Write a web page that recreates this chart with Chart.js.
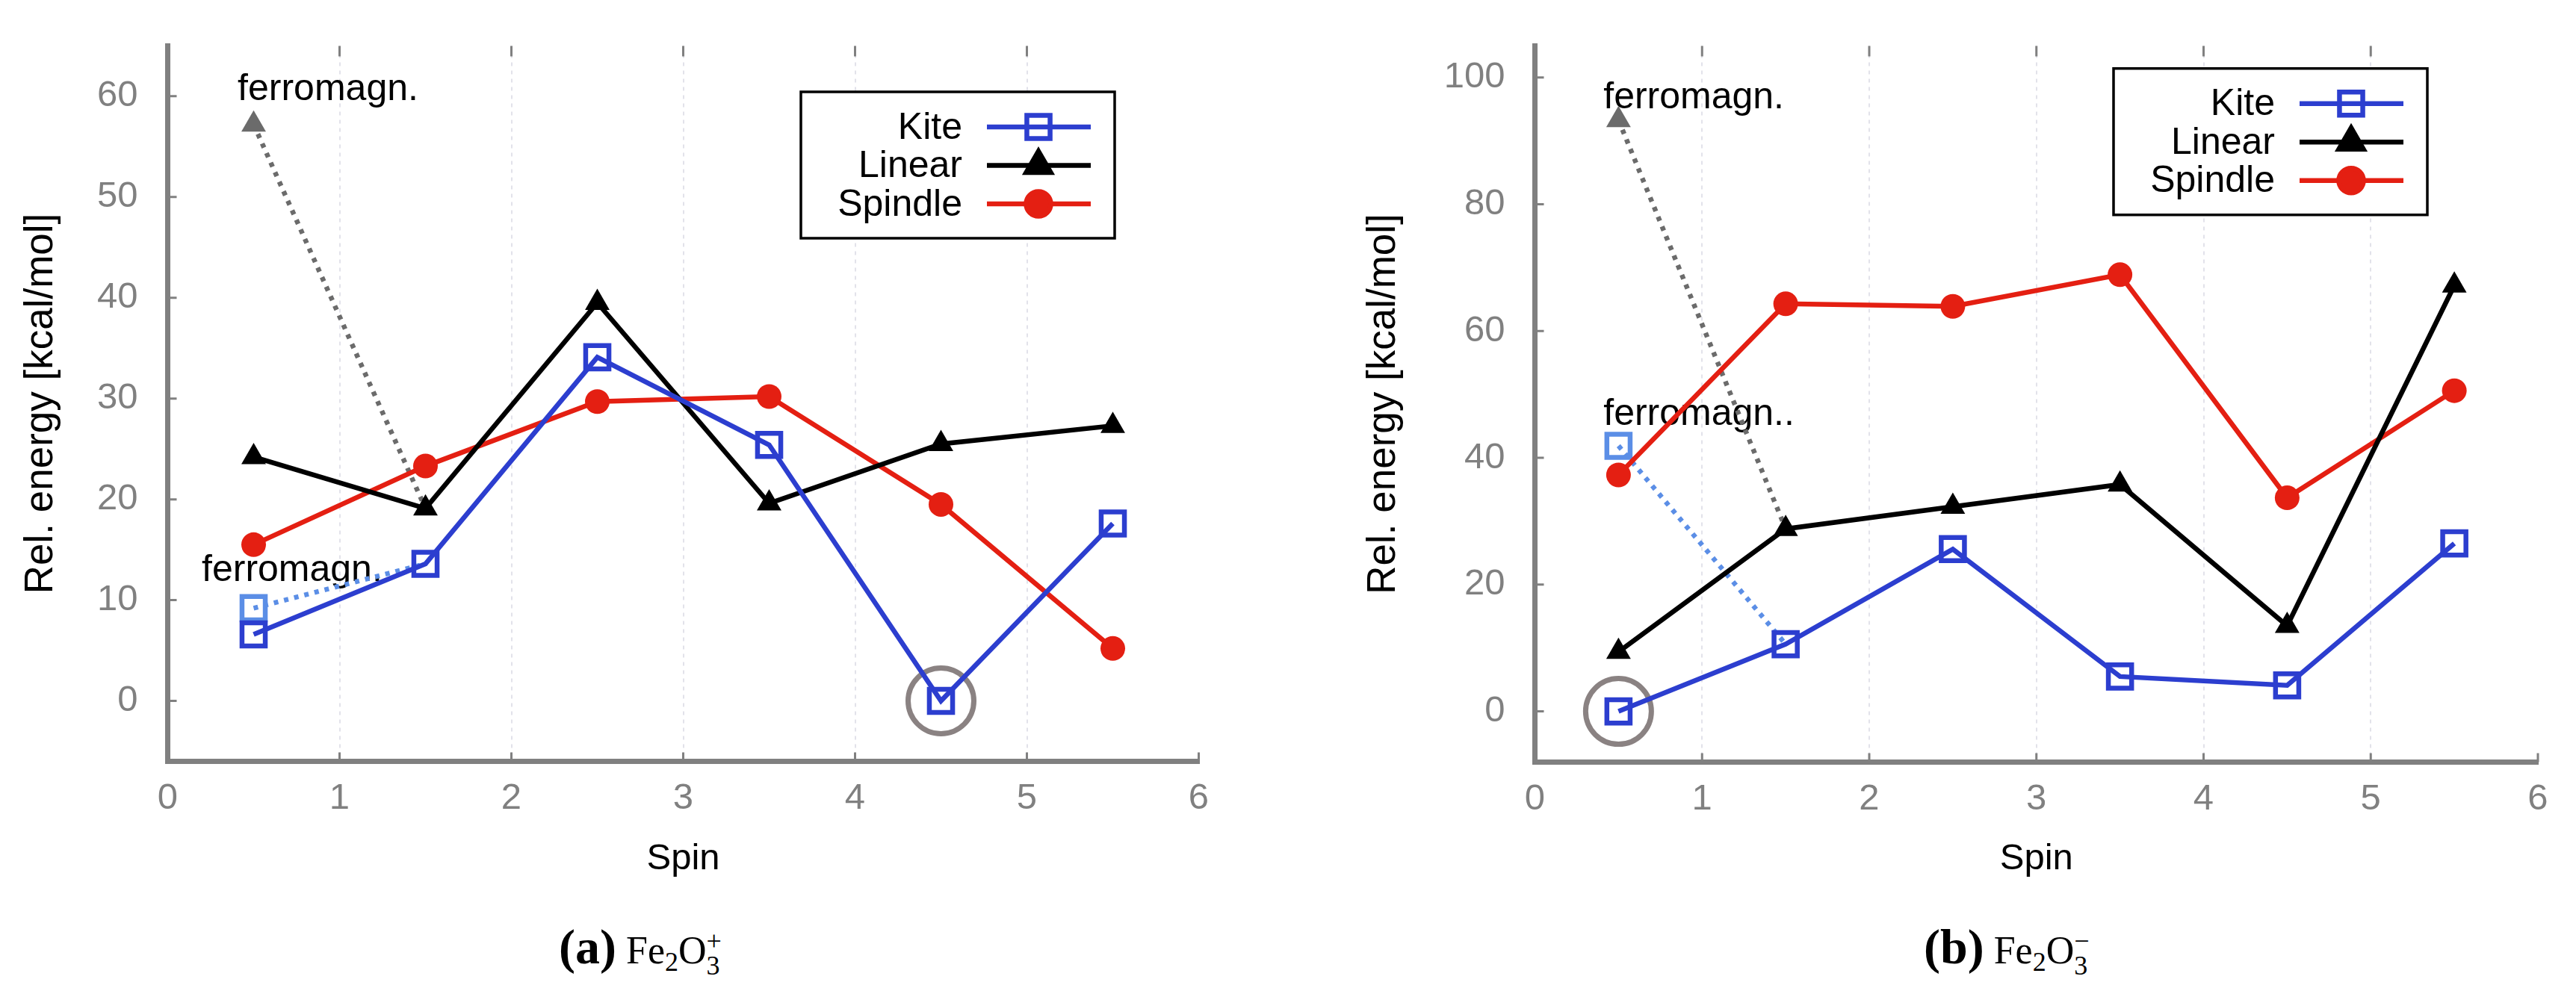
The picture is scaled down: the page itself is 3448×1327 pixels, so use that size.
<!DOCTYPE html>
<html>
<head>
<meta charset="utf-8">
<title>Fe2O3 spin states</title>
<script src="https://cdn.jsdelivr.net/npm/chart.js@4.4.1/dist/chart.umd.min.js"></script>
<style>
html, body { margin: 0; padding: 0; background: #fff; }
body { width: 3448px; height: 1327px; position: relative; overflow: hidden; }
canvas { position: absolute; top: 0; }
#chartPlus { left: 0; }
#chartMinus { left: 1724px; }
.cap { position: absolute; top: 1247px; font-family: "Liberation Serif", "DejaVu Serif", serif; font-size: 52px; line-height: 52px; color: #000; white-space: nowrap; }
.cap b { font-size: 66px; line-height: 0; }
.cap .sb { font-size: 36px; line-height: 0; position: relative; top: 10px; }
.cap .sb3 { font-size: 36px; line-height: 0; position: relative; top: 15px; }
.cap .sp { font-size: 36px; line-height: 0; position: relative; top: -18px; margin-left: -18px; }
</style>
</head>
<body>
<canvas id="chartPlus" width="1724" height="1200"></canvas>
<canvas id="chartMinus" width="1724" height="1200"></canvas>
<div class="cap" style="left:748px"><b>(a)</b> Fe<span class="sb">2</span>O<span class="sb3">3</span><span class="sp">+</span></div>
<div class="cap" style="left:2575px"><b>(b)</b> Fe<span class="sb">2</span>O<span class="sb3">3</span><span class="sp">&minus;</span></div>
<script>
// spin values on the x axis, shared by both panels
var spins = [0.5, 1.5, 2.5, 3.5, 4.5, 5.5];
var ferroSpins = [0.5, 1.5];
var xTicks = [0, 1, 2, 3, 4, 5, 6];

// (a) Fe2O3+  relative energies in kcal/mol
var kitePlus = [6.6, 13.6, 34.1, 25.4, 0.0, 17.6];
var linearPlus = [24.2, 19.1, 39.5, 19.6, 25.5, 27.3];
var spindlePlus = [15.5, 23.3, 29.7, 30.2, 19.5, 5.2];
var ferroKitePlus = [9.2, 13.6];
var ferroLinearPlus = [57.2, 19.1];
var groundSpinPlus = [4.5];
var groundPlus = [0.0];
var yTicksPlus = [0, 10, 20, 30, 40, 50, 60];

// (b) Fe2O3-
var kiteMinus = [0.0, 10.6, 25.6, 5.5, 4.1, 26.5];
var linearMinus = [9.4, 28.8, 32.3, 35.8, 13.5, 67.2];
var spindleMinus = [37.3, 64.3, 63.9, 68.9, 33.7, 50.6];
var ferroKiteMinus = [41.9, 10.6];
var ferroLinearMinus = [93.3, 28.8];
var groundSpinMinus = [0.5];
var groundMinus = [0.0];
var yTicksMinus = [0, 20, 40, 60, 80, 100];

var SANS = '"Liberation Sans", Arial, sans-serif';
var BLUE = '#2c3ecf';
var LIGHTBLUE = '#5b8ee6';
var RED = '#e41f12';
var GRAY = '#6b6b6b';
var RING = '#8a8282';
var AXIS = '#808080';
var CLEAR = 'rgba(0,0,0,0)';

function pts(xs, ys) {
    return xs.map(function (x, i) { return {x: x, y: ys[i]}; });
}

function marker(ctx, style, r, x, y) {
    if (Chart.helpers && Chart.helpers.drawPoint) {
        Chart.helpers.drawPoint(ctx, {pointStyle: style, radius: r, rotation: 0, borderWidth: ctx.lineWidth}, x, y);
        return;
    }
    ctx.beginPath();
    if (style === 'rect') {
        var s = r * Math.SQRT1_2;
        ctx.rect(x - s, y - s, 2 * s, 2 * s);
    } else if (style === 'triangle') {
        ctx.moveTo(x, y - r);
        ctx.lineTo(x + r * 0.866, y + r / 2);
        ctx.lineTo(x - r * 0.866, y + r / 2);
        ctx.closePath();
    } else {
        ctx.arc(x, y, r, 0, Math.PI * 2);
    }
    ctx.fill();
    if (ctx.lineWidth > 0) ctx.stroke();
}

// inward tick marks + the "ferromagn." notes
var axisDecor = {
    id: 'axisDecor',
    beforeDatasetsDraw: function (chart, args, opts) {
        var ctx = chart.ctx, area = chart.chartArea;
        var sx = chart.scales.x, sy = chart.scales.y;
        ctx.save();
        ctx.strokeStyle = AXIS;
        ctx.lineWidth = 3;
        ctx.beginPath();
        sx.ticks.forEach(function (t) {
            var px = sx.getPixelForValue(t.value);
            ctx.moveTo(px, area.bottom);
            ctx.lineTo(px, area.bottom - 12);
            if (t.value > sx.min && t.value < sx.max) {
                ctx.moveTo(px, area.top);
                ctx.lineTo(px, area.top + 14);
            }
        });
        sy.ticks.forEach(function (t) {
            var py = sy.getPixelForValue(t.value);
            ctx.moveTo(area.left, py);
            ctx.lineTo(area.left + 12, py);
        });
        ctx.stroke();

        ctx.fillStyle = '#000';
        ctx.font = '50px ' + SANS;
        ctx.textAlign = 'left';
        ctx.textBaseline = 'alphabetic';
        opts.notes.forEach(function (n) {
            ctx.fillText(n.text, sx.getPixelForValue(n.x), sy.getPixelForValue(n.y));
        });
        ctx.restore();
    }
};

// gnuplot style key: label on the left, line sample with marker on the right
var boxLegend = {
    id: 'boxLegend',
    afterDraw: function (chart, args, opts) {
        var ctx = chart.ctx;
        var bx = opts.x, by = opts.y;
        ctx.save();
        ctx.fillStyle = '#fff';
        ctx.fillRect(bx, by, 420, 196);
        ctx.strokeStyle = '#000';
        ctx.lineWidth = 3.5;
        ctx.strokeRect(bx, by, 420, 196);
        ctx.font = '50px ' + SANS;
        ctx.textAlign = 'right';
        ctx.textBaseline = 'middle';
        opts.items.forEach(function (di, i) {
            var ds = chart.data.datasets[di];
            var cy = by + 47 + i * 51.5;
            ctx.fillStyle = '#000';
            ctx.fillText(ds.label, bx + 216, cy + 2);
            ctx.strokeStyle = ds.borderColor;
            ctx.lineWidth = ds.borderWidth;
            ctx.beginPath();
            ctx.moveTo(bx + 249, cy);
            ctx.lineTo(bx + 388, cy);
            ctx.stroke();
            ctx.fillStyle = ds.pointBackgroundColor;
            ctx.strokeStyle = ds.pointBorderColor;
            ctx.lineWidth = ds.pointBorderWidth;
            marker(ctx, ds.pointStyle, ds.pointRadius, bx + 318, cy);
        });
        ctx.restore();
    }
};

function buildPanel(id, p) {
    var datasets = [
        {label: 'Kite', data: pts(spins, p.kite), borderColor: BLUE, borderWidth: 6.5,
         pointStyle: 'rect', pointRadius: 22, pointBorderWidth: 6.5,
         pointBorderColor: BLUE, pointBackgroundColor: CLEAR},
        {label: 'Linear', data: pts(spins, p.linear), borderColor: '#000', borderWidth: 6.5,
         pointStyle: 'triangle', pointRadius: 19, pointBorderWidth: 0,
         pointBorderColor: '#000', pointBackgroundColor: '#000'},
        {label: 'Spindle', data: pts(spins, p.spindle), borderColor: RED, borderWidth: 6.5,
         pointStyle: 'circle', pointRadius: 16.5, pointBorderWidth: 0,
         pointBorderColor: RED, pointBackgroundColor: RED},
        {label: 'Kite ferromagn.', data: pts(ferroSpins, p.ferroKite), borderColor: LIGHTBLUE,
         borderWidth: 6.5, borderDash: [6, 8], pointStyle: 'rect', pointRadius: [22, 0],
         pointBorderWidth: 6.5, pointBorderColor: LIGHTBLUE, pointBackgroundColor: CLEAR},
        {label: 'Linear ferromagn.', data: pts(ferroSpins, p.ferroLinear), borderColor: GRAY,
         borderWidth: 6.5, borderDash: [6, 8], pointStyle: 'triangle', pointRadius: [19, 0],
         pointBorderWidth: 0, pointBorderColor: GRAY, pointBackgroundColor: GRAY},
        {label: 'ground state', data: pts(p.groundSpin, p.ground), showLine: false,
         pointStyle: 'circle', pointRadius: 44, pointBorderWidth: 7,
         pointBorderColor: RING, pointBackgroundColor: CLEAR}
    ];

    return new Chart(document.getElementById(id), {
        type: 'line',
        data: {datasets: datasets},
        plugins: [axisDecor, boxLegend],
        options: {
            responsive: false,
            animation: false,
            devicePixelRatio: 1,
            layout: {padding: {left: p.padLeft, top: 57.5, right: p.padRight, bottom: 0}},
            plugins: {
                legend: {display: false},
                tooltip: {enabled: false},
                axisDecor: {notes: p.notes},
                boxLegend: {x: p.legendX, y: p.legendY, items: [0, 1, 2]}
            },
            scales: {
                x: {
                    type: 'linear', min: 0, max: 6,
                    afterBuildTicks: function (s) { s.ticks = xTicks.map(function (v) { return {value: v}; }); },
                    afterFit: function (s) { s.height = p.xHeight; },
                    grid: {
                        drawTicks: false, lineWidth: 2,
                        color: function (c) {
                            var v = c.tick ? c.tick.value : 0;
                            return (v === 0 || v === 6) ? CLEAR : '#e2e2ea';
                        }
                    },
                    border: {color: AXIS, width: 7, dash: [5, 6]},
                    ticks: {color: AXIS, font: {family: SANS, size: 49}, padding: 21, maxRotation: 0, autoSkip: false},
                    title: {display: true, text: 'Spin', color: '#000', font: {family: SANS, size: 49}, padding: {top: 0, bottom: 20}}
                },
                y: {
                    type: 'linear', min: p.yMin, max: p.yMax,
                    afterBuildTicks: function (s) { s.ticks = p.yTicks.map(function (v) { return {value: v}; }); },
                    afterFit: function (s) { s.width = p.yWidth; },
                    grid: {display: false},
                    border: {color: AXIS, width: 7},
                    ticks: {color: AXIS, font: {family: SANS, size: 49}, padding: 32},
                    title: {display: true, text: 'Rel. energy [kcal/mol]', color: '#000', font: {family: SANS, size: 53}, padding: {top: 24, bottom: 0}}
                }
            }
        }
    });
}

buildPanel('chartPlus', {
    kite: kitePlus, linear: linearPlus, spindle: spindlePlus,
    ferroKite: ferroKitePlus, ferroLinear: ferroLinearPlus,
    groundSpin: groundSpinPlus, ground: groundPlus,
    yMin: -6, yMax: 65, yTicks: yTicksPlus,
    padLeft: 0, yWidth: 224.5, padRight: 119.5, xHeight: 180.5,
    legendX: 1072, legendY: 123,
    notes: [{text: 'ferromagn.', x: 0.407, y: 59.6}, {text: 'ferromagn.', x: 0.198, y: 11.9}]
});

buildPanel('chartMinus', {
    kite: kiteMinus, linear: linearMinus, spindle: spindleMinus,
    ferroKite: ferroKiteMinus, ferroLinear: ferroLinearMinus,
    groundSpin: groundSpinMinus, ground: groundMinus,
    yMin: -8, yMax: 105, yTicks: yTicksMinus,
    padLeft: 73, yWidth: 257.5, padRight: 43, xHeight: 179.5,
    legendX: 1105, legendY: 91.7,
    notes: [{text: 'ferromagn.', x: 0.41, y: 95.1}, {text: 'ferromagn..', x: 0.41, y: 45.2}]
});
</script>
</body>
</html>
